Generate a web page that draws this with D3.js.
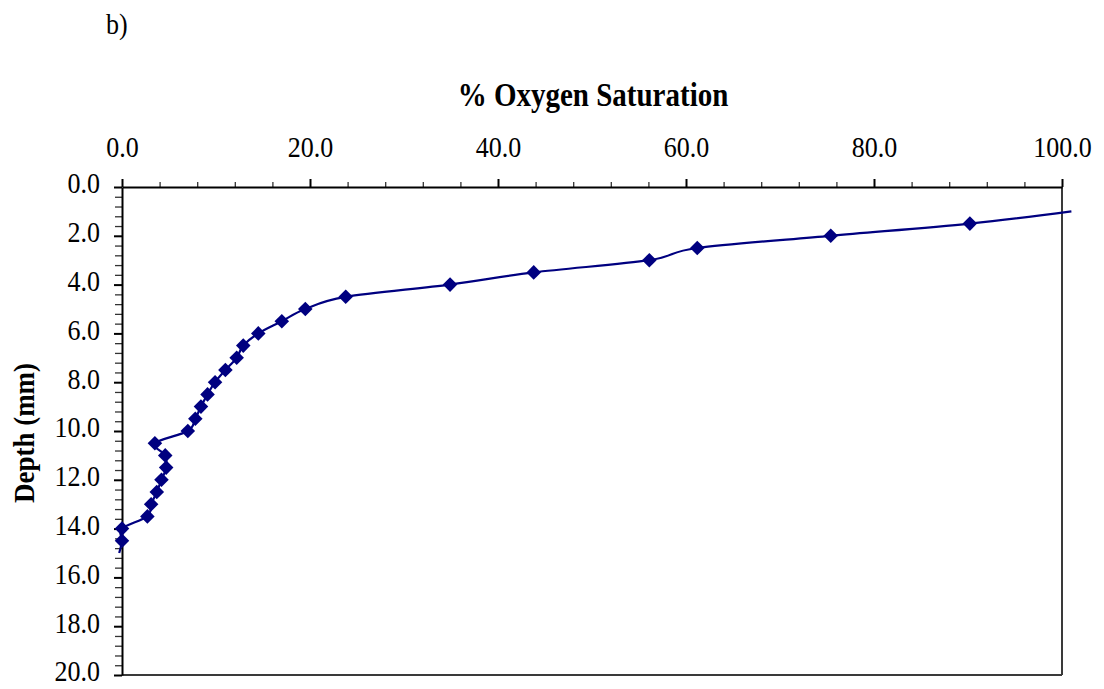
<!DOCTYPE html>
<html>
<head>
<meta charset="utf-8">
<script src="https://cdn.jsdelivr.net/npm/d3@7/dist/d3.min.js"></script>
<style>
  html, body { margin: 0; padding: 0; background: #fff; }
  svg { display: block; }
  text { font-family: "Liberation Serif", "Times New Roman", serif; fill: #000; }
</style>
</head>
<body>
<svg id="chart" width="1104" height="689"></svg>
<script>
// Oxygen saturation profile vs. depth
const depthMm = [1.0, 1.5, 2.0, 2.5, 3.0, 3.5, 4.0, 4.5, 5.0, 5.5, 6.0, 6.5, 7.0, 7.5,
                 8.0, 8.5, 9.0, 9.5, 10.0, 10.5, 11.0, 11.5, 12.0, 12.5, 13.0, 13.5,
                 14.0, 14.5, 15.0];
const oxygenSat = [101.0, 90.2, 75.4, 61.2, 56.1, 43.8, 34.9, 23.8, 19.5, 17.0, 14.5, 12.9,
                   12.2, 11.0, 9.9, 9.1, 8.4, 7.8, 7.0, 3.5, 4.6, 4.7, 4.2, 3.7, 3.1, 2.7,
                   0.0, 0.0, -0.3];
const xTickValues = [0, 20, 40, 60, 80, 100];
const yTickValues = [0, 2, 4, 6, 8, 10, 12, 14, 16, 18, 20];
const xTitle = "% Oxygen Saturation";
const yTitle = "Depth (mm)";
const panelLabel = "b)";

const svg = d3.select("#chart");
const W = 1104, H = 689;
const plot = { left: 122, right: 1062, top: 187, bottom: 675 };
const stretch = 1.13; // glyphs are drawn slightly taller than wide
const serif = '"Liberation Serif", "Times New Roman", serif';

const x = d3.scaleLinear().domain([0, 100]).range([plot.left, plot.right]);
const y = d3.scaleLinear().domain([0, 20]).range([plot.top, plot.bottom]);

const points = depthMm.map((d, i) => ({ depth: d, sat: oxygenSat[i] }));

svg.append("rect").attr("width", W).attr("height", H).attr("fill", "#fff");

// plot-area frame (right and bottom edges)
svg.append("line")
  .attr("x1", plot.right).attr("x2", plot.right)
  .attr("y1", plot.top).attr("y2", plot.bottom)
  .attr("stroke", "#3a3a3a").attr("stroke-width", 2);
svg.append("line")
  .attr("x1", plot.left).attr("x2", plot.right)
  .attr("y1", plot.bottom).attr("y2", plot.bottom)
  .attr("stroke", "#3a3a3a").attr("stroke-width", 2);

// x axis on top: minor ticks every 4, labelled major ticks every 20
const xMinor = d3.range(0, 100.001, 4).filter(v => v % 20 !== 0);
const xAxisG = svg.append("g").attr("transform", `translate(0,${plot.top})`);
xAxisG.append("g")
  .call(d3.axisTop(x).tickValues(xMinor).tickSize(5).tickFormat(""))
  .call(g => g.select(".domain").remove())
  .call(g => g.selectAll("line").attr("stroke", "#333").attr("stroke-width", 1.3));
xAxisG.append("g")
  .call(d3.axisTop(x).tickValues(xTickValues).tickSize(8).tickSizeOuter(0)
        .tickPadding(19).tickFormat(d3.format(".1f")))
  .call(g => g.select(".domain").attr("stroke", "#000").attr("stroke-width", 2))
  .call(g => g.selectAll("line").attr("stroke", "#000").attr("stroke-width", 2))
  .call(g => g.selectAll("text")
    .style("font-family", serif)
    .style("font-size", "26px").attr("fill", "#000")
    .attr("transform", `scale(1,${stretch})`));

// y axis on the left: minor ticks every 0.4, labelled major ticks every 2
const yMinor = d3.range(0, 20.001, 0.4).filter(v => Math.abs(v / 2 - Math.round(v / 2)) > 1e-6);
const yAxisG = svg.append("g").attr("transform", `translate(${plot.left},0)`);
yAxisG.append("g")
  .call(d3.axisLeft(y).tickValues(yMinor).tickSize(7).tickFormat(""))
  .call(g => g.select(".domain").remove())
  .call(g => g.selectAll("line").attr("stroke", "#333").attr("stroke-width", 1.3));
yAxisG.append("g")
  .call(d3.axisLeft(y).tickValues(yTickValues).tickSize(8).tickSizeOuter(0)
        .tickPadding(14).tickFormat(d3.format(".1f")))
  .call(g => g.select(".domain").attr("stroke", "#000").attr("stroke-width", 2))
  .call(g => g.selectAll("line").attr("stroke", "#000").attr("stroke-width", 2))
  .call(g => g.selectAll("text")
    .style("font-family", serif)
    .style("font-size", "26px").attr("fill", "#000")
    .attr("dy", "0.2em")
    .attr("transform", `scale(1,${stretch})`));

// smoothed profile line
const line = d3.line()
  .x(d => x(d.sat))
  .y(d => y(d.depth))
  .curve(d3.curveCardinal.tension(0));
svg.append("path")
  .datum(points)
  .attr("d", line)
  .attr("fill", "none")
  .attr("stroke", "#000080")
  .attr("stroke-width", 2.2)
  .attr("stroke-linejoin", "round");

// diamond markers for readings inside the axis range
const diamond = d3.symbol().type(d3.symbolDiamond2).size(135);
svg.append("g")
  .selectAll("path")
  .data(points.filter(d => d.sat >= 0 && d.sat <= 100))
  .join("path")
  .attr("transform", d => `translate(${x(d.sat)},${y(d.depth)})`)
  .attr("d", diamond)
  .attr("fill", "#000080");

// titles
svg.append("text")
  .attr("transform", `translate(${(plot.left + plot.right) / 2 + 1},106) scale(1,${stretch})`)
  .attr("text-anchor", "middle")
  .style("font-size", "29px")
  .style("font-weight", "bold")
  .text(xTitle);

svg.append("text")
  .attr("transform", `translate(34,${(plot.top + plot.bottom) / 2 + 2}) rotate(-90) scale(1,${stretch})`)
  .attr("text-anchor", "middle")
  .style("font-size", "27px")
  .style("font-weight", "bold")
  .text(yTitle);

svg.append("text")
  .attr("transform", `translate(106,34) scale(1,${stretch})`)
  .style("font-size", "26px")
  .text(panelLabel);
</script>
</body>
</html>
